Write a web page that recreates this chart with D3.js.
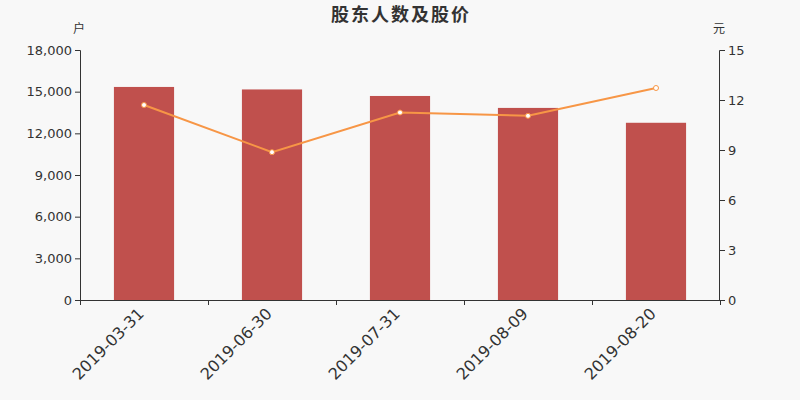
<!DOCTYPE html>
<html>
<head>
<meta charset="utf-8">
<script src="https://cdn.jsdelivr.net/npm/d3@7"></script>
<style>
  body { margin: 0; background: #f8f8f8; }
  text { font-family: "DejaVu Sans", sans-serif; }
</style>
</head>
<body>
<div id="chart"></div>
<script>
var dates = ["2019-03-31", "2019-06-30", "2019-07-31", "2019-08-09", "2019-08-20"];
var holders = [15340, 15160, 14690, 13830, 12760];
var prices = [11.70, 8.87, 11.25, 11.05, 12.72];
var leftTicks = [0, 3000, 6000, 9000, 12000, 15000, 18000];
var rightTicks = [0, 3, 6, 9, 12, 15];

var svgWidth = 800;
var svgHeight = 400;
var margin = { top: 50, right: 80, bottom: 100, left: 80 };
var width = svgWidth - margin.left - margin.right;
var height = svgHeight - margin.top - margin.bottom;

var svg = d3.select("#chart")
  .append("svg")
  .attr("width", svgWidth)
  .attr("height", svgHeight)
  .style("background", "#f8f8f8");

var chartGroup = svg.append("g")
  .attr("transform", `translate(${margin.left}, ${margin.top})`);

var xScale = d3.scaleBand()
  .domain(dates)
  .range([0, width])
  .paddingInner(0.53)
  .paddingOuter(0.265);

var xTickScale = d3.scaleBand().domain(dates).range([0, width]);

var yLeft = d3.scaleLinear().domain([0, 18000]).range([height, 0]);
var yRight = d3.scaleLinear().domain([0, 15]).range([height, 0]);

// bars
chartGroup.append("g")
  .selectAll("rect")
  .data(dates)
  .enter()
  .append("rect")
  .attr("x", d => xScale(d))
  .attr("y", (d, i) => yLeft(holders[i]))
  .attr("width", xScale.bandwidth())
  .attr("height", (d, i) => height - yLeft(holders[i]))
  .attr("fill", "#c0504d");

// axes
var leftAxis = d3.axisLeft(yLeft).tickValues(leftTicks).tickSize(5).tickPadding(3)
  .tickFormat(d3.format(","));
var rightAxis = d3.axisRight(yRight).tickValues(rightTicks).tickSize(5).tickPadding(3);
var bottomAxis = d3.axisBottom(xTickScale).tickSize(0).tickFormat("");

function styleAxis(g) {
  g.select(".domain").attr("stroke", "#333").attr("stroke-width", 1);
  g.selectAll(".tick line").attr("stroke", "#333");
  g.selectAll(".tick text").attr("fill", "#333").attr("font-size", "13px");
}

chartGroup.append("g").call(leftAxis).call(styleAxis)
  .call(g => g.select(".domain").attr("d", `M-5,0.5H0.5V${height}`));
chartGroup.append("g").attr("transform", `translate(${width},0)`).call(rightAxis).call(styleAxis)
  .call(g => g.select(".domain").attr("d", `M5,0.5H-0.5V${height}`));

var bottom = chartGroup.append("g").attr("transform", `translate(0, ${height})`).call(bottomAxis);
bottom.select(".domain").attr("stroke", "#333").attr("d", `M0,0.5H${width}`);
// boundary ticks
bottom.selectAll(".bt")
  .data(d3.range(dates.length + 1))
  .enter()
  .append("line")
  .attr("x1", i => i * xTickScale.step() + 0.5)
  .attr("x2", i => i * xTickScale.step() + 0.5)
  .attr("y1", 0)
  .attr("y2", 5)
  .attr("stroke", "#333");

bottom.selectAll(".lbl")
  .data(dates)
  .enter()
  .append("text")
  .attr("transform", d => `translate(${xScale(d) + xScale.bandwidth() / 2 - 7}, 7) rotate(-45)`)
  .attr("text-anchor", "end")
  .attr("dy", "0.7em")
  .attr("font-size", "16px")
  .attr("fill", "#333")
  .text(d => d);

// price line
var line = d3.line()
  .x((d, i) => xScale(dates[i]) + xScale.bandwidth() / 2)
  .y(d => yRight(d));

chartGroup.append("path")
  .datum(prices)
  .attr("d", line)
  .attr("fill", "none")
  .attr("stroke", "#f79646")
  .attr("stroke-width", 2);

chartGroup.append("g")
  .selectAll("circle")
  .data(prices)
  .enter()
  .append("circle")
  .attr("cx", (d, i) => xScale(dates[i]) + xScale.bandwidth() / 2)
  .attr("cy", d => yRight(d))
  .attr("r", 2.5)
  .attr("fill", "#fff")
  .attr("stroke", "#f79646")
  .attr("stroke-width", 1);

// title and units
svg.append("text")
  .attr("x", svgWidth / 2 + 1)
  .attr("y", 21)
  .attr("text-anchor", "middle")
  .attr("font-size", "18px")
  .attr("font-weight", "bold")
  .attr("letter-spacing", "2px")
  .attr("fill", "#333")
  .style("font-family", "'Noto Sans CJK SC', sans-serif")
  .text("股东人数及股价");

svg.append("text")
  .attr("x", 79)
  .attr("y", 33)
  .attr("text-anchor", "middle")
  .attr("font-size", "12px")
  .attr("fill", "#333")
  .style("font-family", "'Noto Sans CJK SC', sans-serif")
  .text("户");

svg.append("text")
  .attr("x", 719)
  .attr("y", 33)
  .attr("text-anchor", "middle")
  .attr("font-size", "12px")
  .attr("fill", "#333")
  .style("font-family", "'Noto Sans CJK SC', sans-serif")
  .text("元");
</script>
</body>
</html>
